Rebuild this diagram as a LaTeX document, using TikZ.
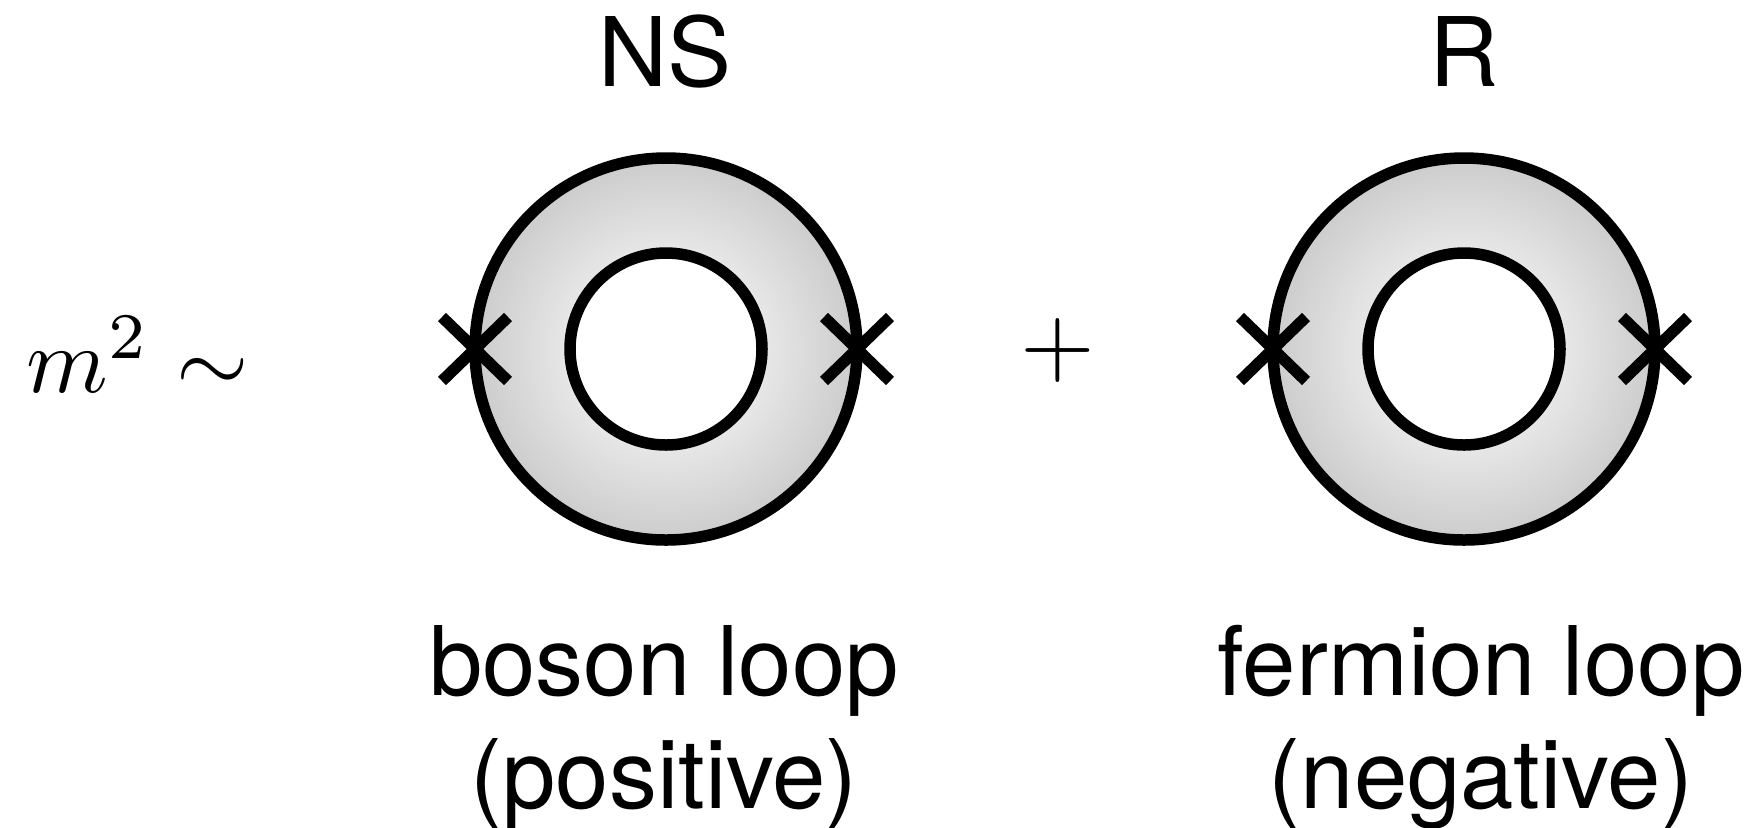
\documentclass[tikz,border=0pt]{standalone}
\usepackage{fontspec}
\setsansfont{TeX Gyre Heros}
\definecolor{ringin}{gray}{0.91}
\definecolor{ringout}{gray}{0.80}
\pgfdeclareradialshading{ringshade}{\pgfpoint{0bp}{0bp}}{color(0bp)=(ringin); color(12.5bp)=(ringin); color(25bp)=(ringout); color(50bp)=(ringout)}
\tikzset{
  loopline/.style={line width=5.75pt},
  outerring/.style={circle, draw, loopline, minimum size=191pt, inner sep=0pt, outer sep=0pt, shade, shading=ringshade},
  innerhole/.style={circle, draw, fill=white, loopline, minimum size=96pt, inner sep=0pt, outer sep=0pt},
  xmark/.style={line width=5.75pt, line cap=butt},
  lbl/.style={font=\sffamily\fontsize{48}{56.5}\selectfont, inner sep=0pt, anchor=base},
  mathbig/.style={inner sep=0pt, scale=#1},
}
\begin{document}
\begin{tikzpicture}[x=0.5pt,y=-0.5pt]
\useasboundingbox (0,0) rectangle (1755,827);
% left side expression
\node[mathbig=4.65, anchor=base west] (mass) at (25,392) {$m^2\sim$};
% loops
\node[outerring] (Lout) at (666,349) {};
\node[innerhole] (Lin) at (Lout.center) {};
\node[outerring] (Rout) at (1464,349) {};
\node[innerhole] (Rin) at (Rout.center) {};
% crosses (vertex insertions)
\foreach \a in {Lout.west, Lout.east, Rout.west, Rout.east}
  \draw[xmark] (\a) +(-33,-32) -- +(33,32) +(-33,32) -- +(33,-32);
% plus
\node[mathbig=4.8] (plus) at (1058,350) {$+$};
% labels
\node[lbl] (ns) at (665,86) {NS};
\node[lbl] (r) at (1464,86) {R};
\node[lbl] (boson) at (664,695) {boson loop};
\node[lbl] (pos) at (664,808) {(positive)};
\node[lbl] (fermion) at (1481,695) {fermion loop};
\node[lbl] (neg) at (1481,808) {(negative)};
\end{tikzpicture}
\end{document}
